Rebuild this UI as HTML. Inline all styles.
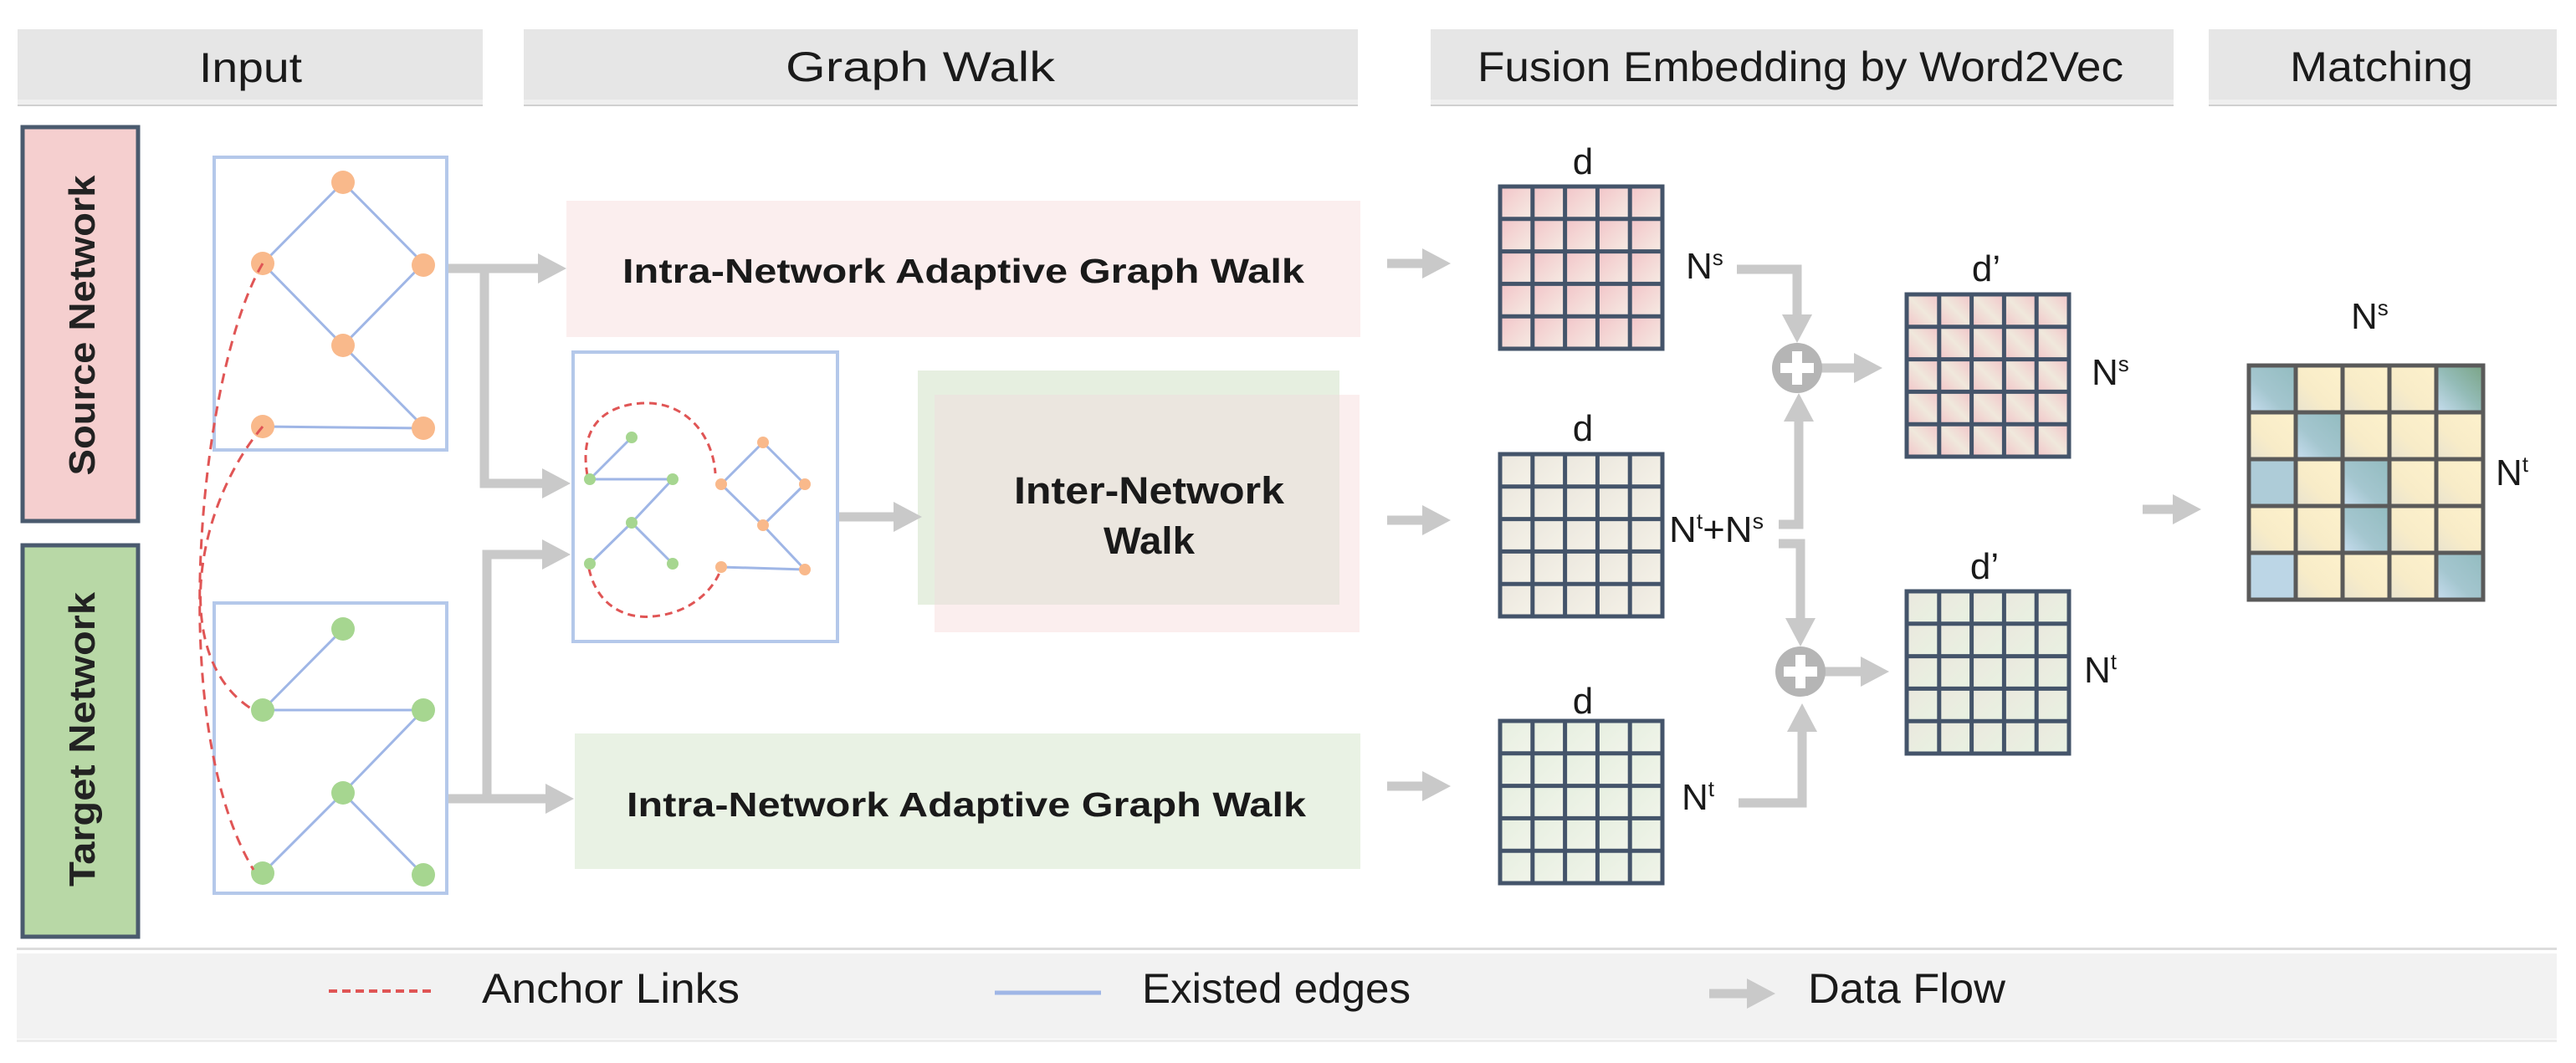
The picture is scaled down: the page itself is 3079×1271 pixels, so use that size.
<!DOCTYPE html>
<html><head><meta charset="utf-8">
<style>html,body{margin:0;padding:0;background:#fff;}svg{display:block;}</style>
</head><body>
<svg width="3079" height="1271" viewBox="0 0 3079 1271" xmlns="http://www.w3.org/2000/svg" font-family="'Liberation Sans', sans-serif">
<defs>
  <marker id="ah" markerUnits="userSpaceOnUse" markerWidth="34" markerHeight="36" refX="8" refY="18" orient="auto">
    <path d="M0,0 L34,18 L0,36 z" fill="#c9c9c9"/>
  </marker>
  <linearGradient id="gp" x1="0" y1="0" x2="1" y2="1"><stop offset="0" stop-color="#f2c4c8"/><stop offset="1" stop-color="#f6ece4"/></linearGradient>
  <linearGradient id="gp2" x1="1" y1="0" x2="0" y2="1"><stop offset="0" stop-color="#f2c4c8"/><stop offset="0.5" stop-color="#f0e8dc"/><stop offset="1" stop-color="#f2c4c8"/></linearGradient>
  <linearGradient id="gb" x1="0" y1="0" x2="1" y2="1"><stop offset="0" stop-color="#ebe7de"/><stop offset="1" stop-color="#f5f2e8"/></linearGradient>
  <linearGradient id="gg" x1="0" y1="0" x2="1" y2="1"><stop offset="0" stop-color="#e6efe0"/><stop offset="1" stop-color="#f1f4ea"/></linearGradient>
  <linearGradient id="gg2" x1="0" y1="0" x2="1" y2="1"><stop offset="0" stop-color="#ebe8de"/><stop offset="1" stop-color="#e8f2e2"/></linearGradient>
  <linearGradient id="gy" x1="1" y1="0" x2="0" y2="1"><stop offset="0" stop-color="#fdf1cc"/><stop offset="0.6" stop-color="#f8ecc8"/><stop offset="1" stop-color="#e9e3cf"/></linearGradient>
  <linearGradient id="gt" x1="1" y1="0" x2="0" y2="1"><stop offset="0" stop-color="#93bcc0"/><stop offset="0.6" stop-color="#a4c6cf"/><stop offset="1" stop-color="#c8def0"/></linearGradient>
  <linearGradient id="gdk" x1="1" y1="0" x2="0" y2="1"><stop offset="0" stop-color="#7aa486"/><stop offset="0.5" stop-color="#94bcb8"/><stop offset="1" stop-color="#c8def0"/></linearGradient>
  <pattern id="pP" patternUnits="userSpaceOnUse" width="38.8" height="38.8"><rect width="38.8" height="38.8" fill="url(#gp)"/></pattern>
  <pattern id="pP2" patternUnits="userSpaceOnUse" width="38.8" height="38.8"><rect width="38.8" height="38.8" fill="url(#gp2)"/></pattern>
  <pattern id="pB" patternUnits="userSpaceOnUse" width="38.8" height="38.8"><rect width="38.8" height="38.8" fill="url(#gb)"/></pattern>
  <pattern id="pG" patternUnits="userSpaceOnUse" width="38.8" height="38.8"><rect width="38.8" height="38.8" fill="url(#gg)"/></pattern>
  <pattern id="pG2" patternUnits="userSpaceOnUse" width="38.8" height="38.8"><rect width="38.8" height="38.8" fill="url(#gg2)"/></pattern>
  <g id="grid5">
    <path d="M38.8,0V194M77.6,0V194M116.4,0V194M155.2,0V194M0,38.8H194M0,77.6H194M0,116.4H194M0,155.2H194" stroke="#44546a" stroke-width="5" fill="none"/>
    <rect x="0" y="0" width="194" height="194" fill="none" stroke="#44546a" stroke-width="5"/>
  </g>
</defs>

<!-- Headers -->
<g>
  <rect x="21" y="35" width="556" height="90" fill="#e6e6e6"/><rect x="21" y="119" width="556" height="6" fill="#efefef"/><rect x="21" y="125" width="556" height="2" fill="#d0d0d0"/>
  <rect x="626" y="35" width="997" height="90" fill="#e6e6e6"/><rect x="626" y="119" width="997" height="6" fill="#efefef"/><rect x="626" y="125" width="997" height="2" fill="#d0d0d0"/>
  <rect x="1710" y="35" width="888" height="90" fill="#e6e6e6"/><rect x="1710" y="119" width="888" height="6" fill="#efefef"/><rect x="1710" y="125" width="888" height="2" fill="#d0d0d0"/>
  <rect x="2640" y="35" width="416" height="90" fill="#e6e6e6"/><rect x="2640" y="119" width="416" height="6" fill="#efefef"/><rect x="2640" y="125" width="416" height="2" fill="#d0d0d0"/>
  <g font-size="50" fill="#1a1a1a">
    <text x="238" y="98" textLength="123" lengthAdjust="spacingAndGlyphs">Input</text>
    <text x="939" y="97" textLength="322" lengthAdjust="spacingAndGlyphs">Graph Walk</text>
    <text x="1766" y="97" textLength="772" lengthAdjust="spacingAndGlyphs">Fusion Embedding by Word2Vec</text>
    <text x="2737" y="97" textLength="219" lengthAdjust="spacingAndGlyphs">Matching</text>
  </g>
</g>

<!-- Source / Target label boxes -->
<rect x="27" y="152" width="138" height="471" fill="#f5cfcf" stroke="#4a5a6e" stroke-width="5"/>
<rect x="27" y="652" width="138" height="468" fill="#b8d8a6" stroke="#4a5a6e" stroke-width="5"/>
<text transform="translate(113,389) rotate(-90)" text-anchor="middle" font-size="44" font-weight="bold" fill="#222" textLength="359" lengthAdjust="spacingAndGlyphs">Source Network</text>
<text transform="translate(113,884) rotate(-90)" text-anchor="middle" font-size="44" font-weight="bold" fill="#222" textLength="352" lengthAdjust="spacingAndGlyphs">Target Network</text>

<!-- Input graphs -->
<rect x="256" y="188" width="278" height="350" fill="#fff" stroke="#b4c8ea" stroke-width="4"/>
<rect x="256" y="721" width="278" height="347" fill="#fff" stroke="#b4c8ea" stroke-width="4"/>
<g stroke="#9fb6e6" stroke-width="3">
  <line x1="410" y1="218" x2="314" y2="315"/><line x1="410" y1="218" x2="506" y2="315"/>
  <line x1="314" y1="315" x2="410" y2="413"/><line x1="506" y1="315" x2="410" y2="413"/>
  <line x1="410" y1="413" x2="506" y2="510"/><line x1="314" y1="510" x2="506" y2="512"/>
  <line x1="410" y1="752" x2="314" y2="849"/><line x1="314" y1="849" x2="506" y2="849"/>
  <line x1="506" y1="849" x2="410" y2="948"/><line x1="410" y1="948" x2="314" y2="1044"/>
  <line x1="410" y1="948" x2="506" y2="1046"/>
</g>
<g fill="#f9b98b">
  <circle cx="410" cy="218" r="14"/><circle cx="314" cy="315" r="14"/><circle cx="506" cy="317" r="14"/>
  <circle cx="410" cy="413" r="14"/><circle cx="314" cy="510" r="14"/><circle cx="506" cy="512" r="14"/>
</g>
<g fill="#a6d690">
  <circle cx="410" cy="752" r="14"/><circle cx="314" cy="849" r="14"/><circle cx="506" cy="849" r="14"/>
  <circle cx="410" cy="948" r="14"/><circle cx="314" cy="1044" r="14"/><circle cx="506" cy="1046" r="14"/>
</g>
<g stroke="#e05555" stroke-width="3" stroke-dasharray="12,8" fill="none">
  <path d="M314,315 C240,440 195,860 303,1040"/>
  <path d="M314,510 C230,610 205,790 303,849"/>
</g>

<!-- Graph walk boxes -->
<rect x="677" y="240" width="949" height="163" fill="#fbeeee"/>
<rect x="687" y="877" width="939" height="162" fill="#e9f2e4"/>
<rect x="1097" y="443" width="504" height="280" fill="#e6efe0"/>
<rect x="1117" y="472" width="508" height="284" fill="#fbeeee"/>
<rect x="1117" y="472" width="484" height="251" fill="#ebe6df"/>
<g font-size="41" font-weight="bold" fill="#1a1a1a">
  <text x="744" y="338" textLength="815" lengthAdjust="spacingAndGlyphs">Intra-Network Adaptive Graph Walk</text>
  <text x="749" y="976" textLength="812" lengthAdjust="spacingAndGlyphs">Intra-Network Adaptive Graph Walk</text>
  <text x="1212" y="602" textLength="323" lengthAdjust="spacingAndGlyphs" font-size="45">Inter-Network</text>
  <text x="1319" y="662" textLength="109" lengthAdjust="spacingAndGlyphs" font-size="45">Walk</text>
</g>

<!-- Middle graph -->
<rect x="685" y="421" width="316" height="346" fill="#fff" stroke="#b4c8ea" stroke-width="4"/>
<g stroke="#9fb6e6" stroke-width="3">
  <line x1="705" y1="573" x2="755" y2="523"/><line x1="705" y1="573" x2="804" y2="573"/>
  <line x1="804" y1="573" x2="755" y2="625"/><line x1="755" y1="625" x2="705" y2="674"/>
  <line x1="755" y1="625" x2="804" y2="674"/>
  <line x1="862" y1="579" x2="912" y2="529"/><line x1="912" y1="529" x2="962" y2="579"/>
  <line x1="862" y1="579" x2="912" y2="628"/><line x1="962" y1="579" x2="912" y2="628"/>
  <line x1="912" y1="628" x2="962" y2="681"/><line x1="862" y1="678" x2="962" y2="681"/>
</g>
<g stroke="#e05555" stroke-width="3" stroke-dasharray="9,6" fill="none">
  <path d="M702,568 C690,500 735,482 773,482 C820,482 852,520 855,566"/>
  <path d="M704,680 C715,730 755,740 780,737 C830,733 855,700 861,682"/>
</g>
<g fill="#a6d690">
  <circle cx="755" cy="523" r="7"/><circle cx="705" cy="573" r="7"/><circle cx="804" cy="573" r="7"/>
  <circle cx="755" cy="625" r="7"/><circle cx="705" cy="674" r="7"/><circle cx="804" cy="674" r="7"/>
</g>
<g fill="#f9b98b">
  <circle cx="912" cy="529" r="7"/><circle cx="862" cy="579" r="7"/><circle cx="962" cy="579" r="7"/>
  <circle cx="912" cy="628" r="7"/><circle cx="862" cy="678" r="7"/><circle cx="962" cy="681" r="7"/>
</g>

<!-- Data flow arrows -->
<g stroke="#c9c9c9" stroke-width="11" fill="none">
  <line x1="536" y1="321" x2="651" y2="321" marker-end="url(#ah)"/>
  <polyline points="579,321 579,578 656,578" marker-end="url(#ah)"/>
  <line x1="536" y1="955" x2="660" y2="955" marker-end="url(#ah)"/>
  <polyline points="582,955 582,663 656,663" marker-end="url(#ah)"/>
  <line x1="1003" y1="618" x2="1076" y2="618" marker-end="url(#ah)"/>
  <line x1="1658" y1="315" x2="1708" y2="315" marker-end="url(#ah)"/>
  <line x1="1658" y1="622" x2="1708" y2="622" marker-end="url(#ah)"/>
  <line x1="1658" y1="940" x2="1708" y2="940" marker-end="url(#ah)"/>
  <polyline points="2076,322 2148,322 2148,384" marker-end="url(#ah)"/>
  <polyline points="2126,627 2150,627 2150,496" marker-end="url(#ah)"/>
  <polyline points="2126,650 2152,650 2152,747" marker-end="url(#ah)"/>
  <polyline points="2078,960 2154,960 2154,867" marker-end="url(#ah)"/>
  <line x1="2176" y1="440" x2="2224" y2="440" marker-end="url(#ah)"/>
  <line x1="2180" y1="803" x2="2232" y2="803" marker-end="url(#ah)"/>
  <line x1="2561" y1="609" x2="2605" y2="609" marker-end="url(#ah)"/>
</g>
<g>
  <circle cx="2148" cy="440" r="30" fill="#b5b5b5"/>
  <rect x="2142" y="420" width="12" height="40" fill="#fff"/><rect x="2128" y="434" width="40" height="12" fill="#fff"/>
  <circle cx="2152" cy="803" r="30" fill="#b5b5b5"/>
  <rect x="2146" y="783" width="12" height="40" fill="#fff"/><rect x="2132" y="797" width="40" height="12" fill="#fff"/>
</g>

<!-- Matrices -->
<g transform="translate(1793,223)"><rect width="194" height="194" fill="url(#pP)"/><use href="#grid5"/></g>
<g transform="translate(1793,543)"><rect width="194" height="194" fill="url(#pB)"/><use href="#grid5"/></g>
<g transform="translate(1793,862)"><rect width="194" height="194" fill="url(#pG)"/><use href="#grid5"/></g>
<g transform="translate(2279,352)"><rect width="194" height="194" fill="url(#pP2)"/><use href="#grid5"/></g>
<g transform="translate(2279,707)"><rect width="194" height="194" fill="url(#pG2)"/><use href="#grid5"/></g>

<!-- Matching matrix -->
<g transform="translate(2688,437)">
  <g>
    <rect x="0" y="0" width="56" height="56" fill="url(#gt)"/><rect x="56" y="0" width="56" height="56" fill="url(#gy)"/><rect x="112" y="0" width="56" height="56" fill="url(#gy)"/><rect x="168" y="0" width="56" height="56" fill="url(#gy)"/><rect x="224" y="0" width="56" height="56" fill="url(#gdk)"/>
    <rect x="0" y="56" width="56" height="56" fill="url(#gy)"/><rect x="56" y="56" width="56" height="56" fill="url(#gt)"/><rect x="112" y="56" width="56" height="56" fill="url(#gy)"/><rect x="168" y="56" width="56" height="56" fill="url(#gy)"/><rect x="224" y="56" width="56" height="56" fill="url(#gy)"/>
    <rect x="0" y="112" width="56" height="56" fill="#aeccd8"/><rect x="56" y="112" width="56" height="56" fill="url(#gy)"/><rect x="112" y="112" width="56" height="56" fill="url(#gt)"/><rect x="168" y="112" width="56" height="56" fill="url(#gy)"/><rect x="224" y="112" width="56" height="56" fill="url(#gy)"/>
    <rect x="0" y="168" width="56" height="56" fill="url(#gy)"/><rect x="56" y="168" width="56" height="56" fill="url(#gy)"/><rect x="112" y="168" width="56" height="56" fill="url(#gt)"/><rect x="168" y="168" width="56" height="56" fill="url(#gy)"/><rect x="224" y="168" width="56" height="56" fill="url(#gy)"/>
    <rect x="0" y="224" width="56" height="56" fill="#bcd6e6"/><rect x="56" y="224" width="56" height="56" fill="url(#gy)"/><rect x="112" y="224" width="56" height="56" fill="url(#gy)"/><rect x="168" y="224" width="56" height="56" fill="url(#gy)"/><rect x="224" y="224" width="56" height="56" fill="url(#gt)"/>
  </g>
  <path d="M56,0V280M112,0V280M168,0V280M224,0V280M0,56H280M0,112H280M0,168H280M0,224H280" stroke="#5a5a5a" stroke-width="5"/>
  <rect width="280" height="280" fill="none" stroke="#5a5a5a" stroke-width="5"/>
</g>

<!-- Matrix labels -->
<g font-size="44" fill="#1a1a1a">
  <text x="1892" y="208" text-anchor="middle">d</text>
  <text x="1892" y="527" text-anchor="middle">d</text>
  <text x="1892" y="853" text-anchor="middle">d</text>
  <text x="2374" y="336" text-anchor="middle">d’</text>
  <text x="2372" y="692" text-anchor="middle">d’</text>
  <text x="2015" y="333">N<tspan font-size="26" dy="-16">s</tspan></text>
  <text x="1995" y="648" textLength="113" lengthAdjust="spacingAndGlyphs">N<tspan font-size="26" dy="-16">t</tspan><tspan dy="16">+N</tspan><tspan font-size="26" dy="-16">s</tspan></text>
  <text x="2010" y="968">N<tspan font-size="26" dy="-16">t</tspan></text>
  <text x="2500" y="460">N<tspan font-size="26" dy="-16">s</tspan></text>
  <text x="2491" y="816">N<tspan font-size="26" dy="-16">t</tspan></text>
  <text x="2810" y="393">N<tspan font-size="26" dy="-16">s</tspan></text>
  <text x="2983" y="580">N<tspan font-size="26" dy="-16">t</tspan></text>
</g>

<!-- Footer legend -->
<rect x="20" y="1133" width="3036" height="3" fill="#dcdcdc"/>
<rect x="20" y="1140" width="3036" height="102" fill="#f2f2f2"/>
<rect x="20" y="1243" width="3036" height="3" fill="#ececec"/>
<line x1="393" y1="1185" x2="521" y2="1185" stroke="#e05555" stroke-width="4" stroke-dasharray="10,6"/>
<line x1="1189" y1="1187" x2="1316" y2="1187" stroke="#9fb6e6" stroke-width="5"/>
<line x1="2043" y1="1188" x2="2096" y2="1188" stroke="#c9c9c9" stroke-width="11" marker-end="url(#ah)"/>
<g font-size="50" fill="#1a1a1a">
  <text x="576" y="1199" textLength="308" lengthAdjust="spacingAndGlyphs">Anchor Links</text>
  <text x="1365" y="1199" textLength="321" lengthAdjust="spacingAndGlyphs">Existed edges</text>
  <text x="2161" y="1199" textLength="236" lengthAdjust="spacingAndGlyphs">Data Flow</text>
</g>
</svg>
</body></html>
